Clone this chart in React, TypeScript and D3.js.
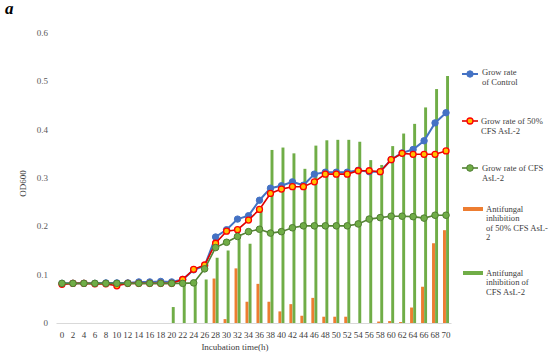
import React from "react";
import * as d3 from "d3";

const times = [0,2,4,6,8,10,12,14,16,18,20,22,24,26,28,30,32,34,36,38,40,42,44,46,48,50,52,54,56,58,60,62,64,66,68,70];

const controlGrowth = [0.082,0.082,0.082,0.082,0.083,0.083,0.083,0.085,0.085,0.086,0.085,0.09,0.11,0.118,0.178,0.193,0.215,0.222,0.254,0.279,0.284,0.292,0.285,0.308,0.312,0.312,0.312,0.316,0.313,0.313,0.338,0.352,0.359,0.377,0.414,0.435];
const growth50 = [0.08,0.082,0.082,0.081,0.081,0.077,0.082,0.082,0.082,0.082,0.082,0.09,0.111,0.12,0.165,0.19,0.193,0.213,0.235,0.268,0.277,0.282,0.282,0.292,0.308,0.308,0.308,0.315,0.315,0.313,0.338,0.351,0.349,0.349,0.349,0.356];
const growthCFS = [0.082,0.082,0.082,0.082,0.082,0.082,0.082,0.082,0.082,0.082,0.082,0.082,0.083,0.112,0.156,0.167,0.179,0.189,0.194,0.186,0.189,0.197,0.201,0.201,0.201,0.201,0.201,0.205,0.215,0.218,0.221,0.221,0.22,0.217,0.223,0.223];
const inhib50 = [0,0,0,0,0,0,0,0,0,0,0,0,0,0,0.092,0.008,0.113,0.044,0.081,0.044,0.024,0.039,0.015,0.052,0.013,0.013,0.013,0,0,0.003,0.004,0.002,0.032,0.075,0.165,0.192];
const inhibCFS = [0,0,0,0,0,0,0,0,0,0,0.033,0.085,0.085,0.09,0.135,0.15,0.178,0.164,0.24,0.358,0.363,0.351,0.319,0.367,0.378,0.379,0.379,0.375,0.337,0.327,0.366,0.392,0.412,0.446,0.484,0.511];

const yTicks = [0, 0.1, 0.2, 0.3, 0.4, 0.5, 0.6];

const W = 550, H = 356;
const font = "'Liberation Serif', 'DejaVu Serif', serif";
const LFS = 8.6;

export default function App() {
  const x = d3.scaleBand<string>().domain(times.map(String)).range([56.5, 451.5]).padding(0);
  const bw = x.bandwidth();
  const cx = (i: number) => (x(String(times[i])) as number) + bw / 2;
  const y = d3.scaleLinear().domain([0, 0.6]).range([323, 33]);
  const xs = d3.scaleBand<string>().domain(["o", "g"]).range([bw / 2 - 3, bw / 2 + 3]).paddingInner(0.05);

  const line = d3.line<number>().x((_, i) => cx(i)).y((d) => y(d));

  const series = [
    { data: controlGrowth, stroke: "#4472C4", sw: 2, fill: "#4472C4", mstroke: "#4472C4", r: 3.2, msw: 1 },
    { data: growth50, stroke: "#E00000", sw: 1.6, fill: "#FFC000", mstroke: "#FF0000", r: 3, msw: 1.3 },
    { data: growthCFS, stroke: "#548235", sw: 1.6, fill: "#70AD47", mstroke: "#507E32", r: 3.3, msw: 1 },
  ];

  const legendLines = [
    { s: series[0], y: 74, x: 482, lines: ["Grow rate", "of Control"], ty: 72 },
    { s: series[1], y: 121, x: 481, lines: ["Grow rate of 50%", "CFS AsL-2"], ty: 121 },
    { s: series[2], y: 168, x: 482, lines: ["Grow rate of CFS", "AsL-2"], ty: 168 },
  ];

  return (
    <div style={{ position: "absolute", left: 0, top: 0 }}>
      <svg width={W} height={H} style={{ display: "block", background: "#fff" }}>
        <text x={5} y={14} fontFamily={font} fontWeight="bold" fontStyle="italic" fontSize={17} fill="#000">a</text>
        {yTicks.map((t) => (
          <text key={t} x={48} y={y(t)} dy="0.35em" textAnchor="end" fontFamily={font} fontSize={9} fill="#595959">{t === 0 ? "0" : String(t)}</text>
        ))}
        <line x1={56.5} x2={451.5} y1={323.5} y2={323.5} stroke="#D9D9D9" strokeWidth={1} />
        {times.map((t, i) => (
          <text key={t} x={cx(i)} y={337.5} textAnchor="middle" fontFamily={font} fontSize={9} fill="#404040">{t}</text>
        ))}
        <text x={235} y={349.5} textAnchor="middle" fontFamily={font} fontSize={9} fill="#404040">Incubation time(h)</text>
        <text transform="translate(26,183.5) rotate(-90)" textAnchor="middle" fontFamily={font} fontSize={9} fill="#404040">OD600</text>

        {inhib50.map((v, i) => v > 0 ? (
          <rect key={"o" + i} x={(x(String(times[i])) as number) + (xs("o") as number)} y={y(v)} width={xs.bandwidth()} height={y(0) - y(v)} fill="#ED7D31" />
        ) : null)}
        {inhibCFS.map((v, i) => v > 0 ? (
          <rect key={"g" + i} x={(x(String(times[i])) as number) + (xs("g") as number)} y={y(v)} width={xs.bandwidth()} height={y(0) - y(v)} fill="#70AD47" />
        ) : null)}

        {series.map((s, k) => (
          <g key={k}>
            <path d={line(s.data) as string} fill="none" stroke={s.stroke} strokeWidth={s.sw} />
            {s.data.map((v, i) => (
              <circle key={i} cx={cx(i)} cy={y(v)} r={s.r} fill={s.fill} stroke={s.mstroke} strokeWidth={s.msw} />
            ))}
          </g>
        ))}

        {legendLines.map((l, k) => (
          <g key={k}>
            <line x1={462} x2={478} y1={l.y} y2={l.y} stroke={l.s.stroke} strokeWidth={l.s.sw} />
            <circle cx={470} cy={l.y} r={l.s.r} fill={l.s.fill} stroke={l.s.mstroke} strokeWidth={l.s.msw} />
            {l.lines.map((t, j) => (
              <text key={j} x={l.x} y={l.ty + j * 9.5} dy="0.35em" fontFamily={font} fontSize={LFS} fill="#404040">{t}</text>
            ))}
          </g>
        ))}
        <rect x={463} y={207} width={20} height={4} fill="#ED7D31" />
        {["Antifungal", "inhibition", "of 50% CFS AsL-", "2"].map((t, j) => (
          <text key={t} x={486} y={209 + j * 9.4} dy="0.35em" fontFamily={font} fontSize={LFS} fill="#404040">{t}</text>
        ))}
        <rect x={463} y={271} width={20} height={4} fill="#70AD47" />
        {["Antifungal", "inhibition of", "CFS AsL-2"].map((t, j) => (
          <text key={t} x={486} y={273 + j * 9.4} dy="0.35em" fontFamily={font} fontSize={LFS} fill="#404040">{t}</text>
        ))}
      </svg>
    </div>
  );
}
